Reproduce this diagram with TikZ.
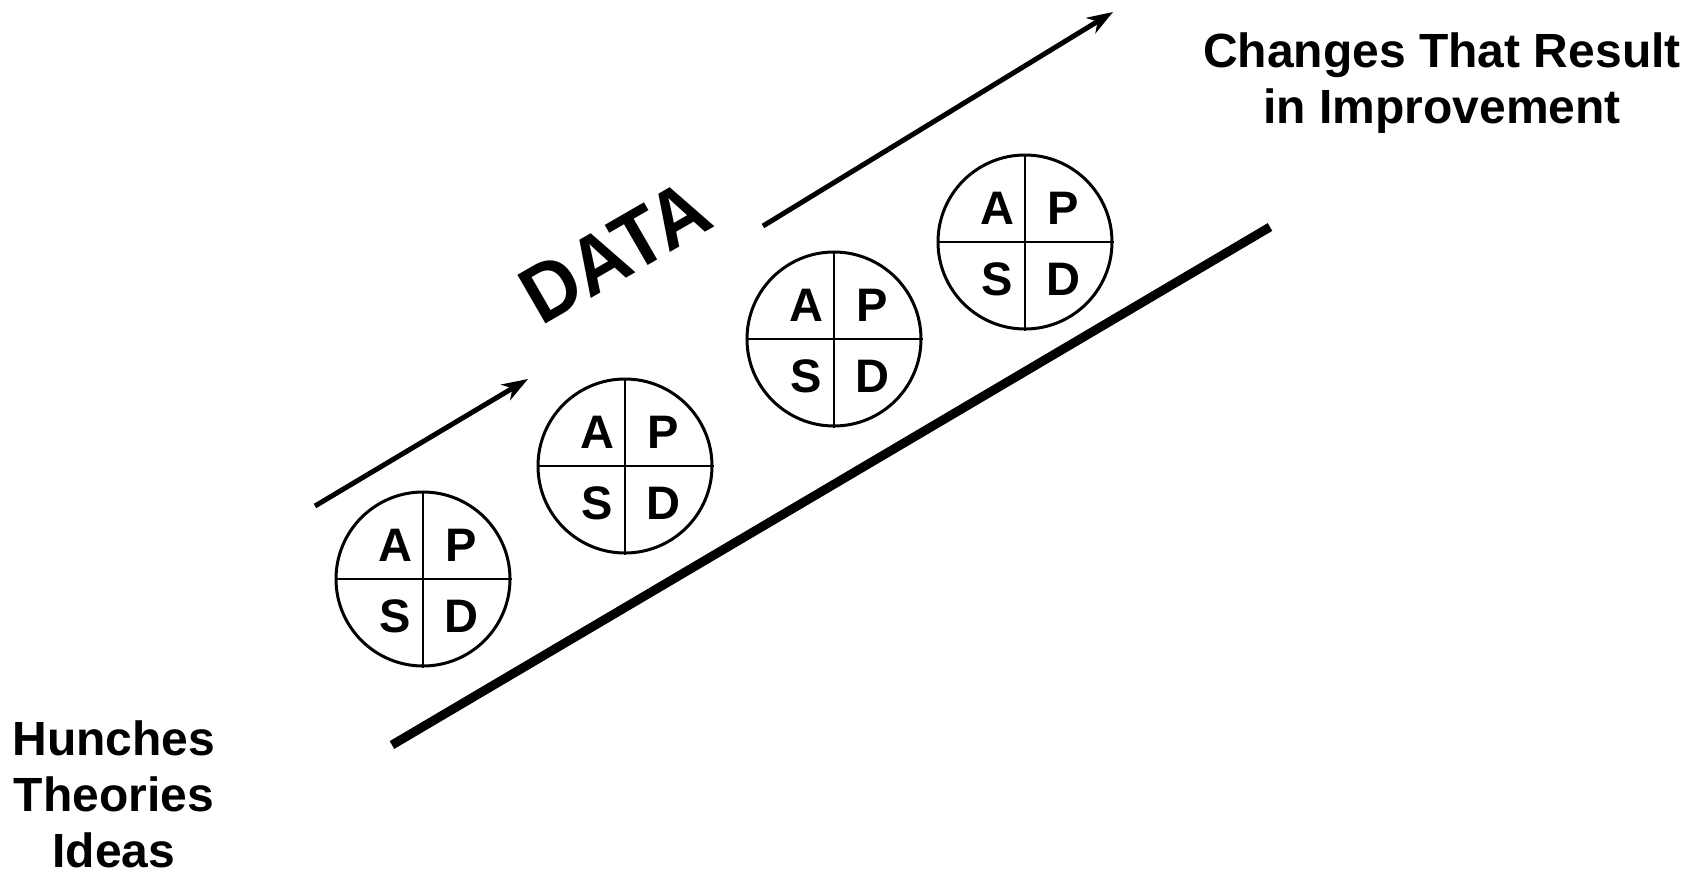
\documentclass[tikz,border=0pt]{standalone}
\usepackage{fontspec}
\setmainfont{Liberation Sans}
\usetikzlibrary{arrows.meta,calc}
\tikzset{
  pdsa/.style={circle, draw, line width=3pt, minimum size=174pt, inner sep=0pt},
  divider/.style={line width=2.6pt},
  letter/.style={anchor=base, inner sep=0pt, font=\fontsize{47}{54}\selectfont\bfseries},
  label/.style={anchor=base, inner sep=0pt, font=\fontsize{48}{55}\selectfont\bfseries},
  flow/.style={line width=5pt, -{Stealth[length=26pt, width=18pt, inset=8pt]}},
  ramp/.style={line width=9pt}
}
\begin{document}
\begin{tikzpicture}[x=1pt, y=-1pt]
\useasboundingbox (0,0) rectangle (1701,875);
\foreach \n/\x/\y in {1/423/579, 2/625/466, 3/834/339, 4/1025/242} {
  \node[pdsa] (c\n) at (\x,\y) {};
  \draw[divider] (c\n.north) -- (c\n.south);
  \draw[divider] (c\n.west) -- (c\n.east);
  \node[letter] (a\n) at ([shift={(-28,-18)}]c\n.center) {A};
  \node[letter] (p\n) at ([shift={(38,-18)}]c\n.center) {P};
  \node[letter] (s\n) at ([shift={(-28,53)}]c\n.center) {S};
  \node[letter] (d\n) at ([shift={(38,53)}]c\n.center) {D};
}
\coordinate (r0) at (392,745);
\coordinate (r1) at (1270,227);
\draw[ramp] (r0) -- (r1);
\coordinate (f0) at (315,506);
\coordinate (f1) at (528,379);
\draw[flow] (f0) -- (f1);
\coordinate (g0) at (763,226);
\coordinate (g1) at (1113,12);
\draw[flow] (g0) -- (g1);
\node[rotate=30, inner sep=0pt, yscale=1.06, font=\fontsize{77}{84}\selectfont\bfseries] (data) at (615,252) {DATA};
\node[label] (ch1) at (1442,68) {Changes That Result};
\node[label] (ch2) at (1442,123) {in Improvement};
\node[label] (h1) at (114,755) {Hunches};
\node[label] (h2) at (114,811) {Theories};
\node[label] (h3) at (114,867) {Ideas};
\end{tikzpicture}
\end{document}
